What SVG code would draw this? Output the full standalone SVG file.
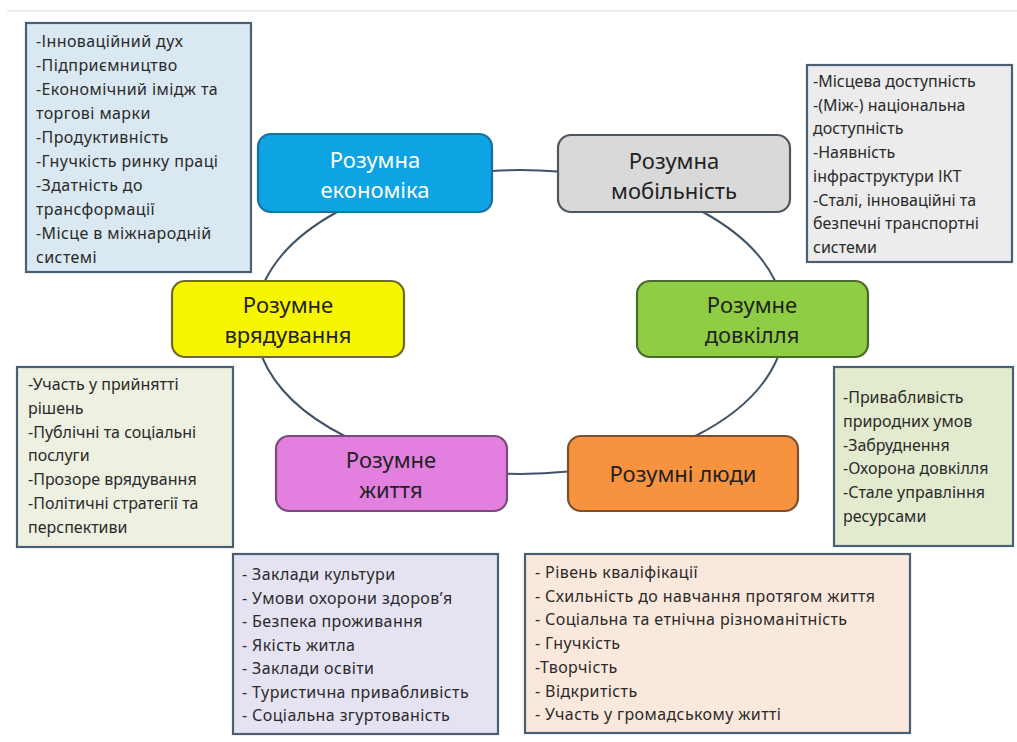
<svg xmlns="http://www.w3.org/2000/svg" width="1017" height="742" viewBox="0 0 1017 742">
<style>
.bg{fill:#ffffff}
.box{stroke:#4b5f72;stroke-width:2.2}
.node{stroke-width:2.2}
.lst{font-family:"Noto Sans","DejaVu Sans",sans-serif;font-size:16px;letter-spacing:0.4px;fill:#2a2a2a}
.ttl{font-family:"Noto Sans","DejaVu Sans",sans-serif;font-size:22px;fill:#222;text-anchor:middle}
.conn{fill:none;stroke:#3f5468;stroke-width:2}
</style>
<rect class="bg" x="0" y="0" width="1017" height="742"/>
<line x1="7" y1="11" x2="1017" y2="11" stroke="#e6e6e6" stroke-width="1.5"/>

<g id="connectors">
<path class="conn" d="M492,170.9 A265,152 0 0 1 558,171.6"/>
<path class="conn" d="M702.9,212 A265,152 0 0 1 775.2,281"/>
<path class="conn" d="M777.9,357 A265,152 0 0 1 695.3,436"/>
<path class="conn" d="M568,471.5 A265,152 0 0 1 507,473.8"/>
<path class="conn" d="M344.7,436 A265,152 0 0 1 262.1,357"/>
<path class="conn" d="M264.8,281 A265,152 0 0 1 337.1,212"/>
</g>

<g id="economy-list">
<rect class="box" x="26" y="23" width="225" height="249" fill="#dae8f2"/>
<text class="lst" x="36"><tspan x="36" y="47">-Інноваційний дух</tspan><tspan x="36" y="71">-Підприємництво</tspan><tspan x="36" y="95">-Економічний імідж та</tspan><tspan x="36" y="119">торгові марки</tspan><tspan x="36" y="143">-Продуктивність</tspan><tspan x="36" y="167">-Гнучкість ринку праці</tspan><tspan x="36" y="191">-Здатність до</tspan><tspan x="36" y="215">трансформації</tspan><tspan x="36" y="239">-Місце в міжнародній</tspan><tspan x="36" y="263">системі</tspan></text>
</g>

<g id="mobility-list">
<rect class="box" x="807" y="65" width="205" height="197" fill="#ececec"/>
<text class="lst" x="813" style="letter-spacing:0px"><tspan x="813" y="87">-Місцева доступність</tspan><tspan x="813" y="110.7">-(Між-) національна</tspan><tspan x="813" y="134.4">доступність</tspan><tspan x="813" y="158.1">-Наявність</tspan><tspan x="813" y="181.8">інфраструктури ІКТ</tspan><tspan x="813" y="205.5">-Сталі, інноваційні та</tspan><tspan x="813" y="229.2">безпечні транспортні</tspan><tspan x="813" y="252.9">системи</tspan></text>
</g>

<g id="governance-list">
<rect class="box" x="17" y="367" width="216" height="180" fill="#eef0e2"/>
<text class="lst" x="28" style="letter-spacing:0px"><tspan x="28" y="390">-Участь у прийнятті</tspan><tspan x="28" y="413.8">рішень</tspan><tspan x="28" y="437.6">-Публічні та соціальні</tspan><tspan x="28" y="461.4">послуги</tspan><tspan x="28" y="485.2">-Прозоре врядування</tspan><tspan x="28" y="509">-Політичні стратегії та</tspan><tspan x="28" y="532.8">перспективи</tspan></text>
</g>

<g id="environment-list">
<rect class="box" x="834" y="367" width="179" height="179" fill="#e3ebcf"/>
<text class="lst" x="843" style="letter-spacing:0px"><tspan x="843" y="403">-Привабливість</tspan><tspan x="843" y="426.8">природних умов</tspan><tspan x="843" y="450.6">-Забруднення</tspan><tspan x="843" y="474.4">-Охорона довкілля</tspan><tspan x="843" y="498.2">-Стале управління</tspan><tspan x="843" y="522">ресурсами</tspan></text>
</g>

<g id="life-list">
<rect class="box" x="233" y="554" width="265" height="180" fill="#e5e2f2"/>
<text class="lst" x="242"><tspan x="242" y="580">- Заклади культури</tspan><tspan x="242" y="603.5">- Умови охорони здоров’я</tspan><tspan x="242" y="627">- Безпека проживання</tspan><tspan x="242" y="650.5">- Якість житла</tspan><tspan x="242" y="674">- Заклади освіти</tspan><tspan x="242" y="697.5">- Туристична привабливість</tspan><tspan x="242" y="721">- Соціальна згуртованість</tspan></text>
</g>

<g id="people-list">
<rect class="box" x="525" y="554" width="385" height="179" fill="#fbe8dc"/>
<text class="lst" x="535"><tspan x="535" y="578">- Рівень кваліфікації</tspan><tspan x="535" y="601.7">- Схильність до навчання протягом життя</tspan><tspan x="535" y="625.4">- Соціальна та етнічна різноманітність</tspan><tspan x="535" y="649.1">- Гнучкість</tspan><tspan x="535" y="672.8">-Творчість</tspan><tspan x="535" y="696.5">- Відкритість</tspan><tspan x="535" y="720.2">- Участь у громадському житті</tspan></text>
</g>

<g id="economy">
<rect class="node" x="258" y="134" width="234" height="78" rx="13" fill="#0ea3e2" stroke="#1b6f9e"/>
<text class="ttl" x="375" y="168" style="fill:#ffffff">Розумна</text>
<text class="ttl" x="375" y="198" style="fill:#ffffff">економіка</text>
</g>

<g id="mobility">
<rect class="node" x="558" y="135" width="232" height="77" rx="13" fill="#d9d9d9" stroke="#4e5660"/>
<text class="ttl" x="674" y="169">Розумна</text>
<text class="ttl" x="674" y="199">мобільність</text>
</g>

<g id="governance">
<rect class="node" x="172" y="281" width="232" height="76" rx="13" fill="#f7f500" stroke="#6d6b2c"/>
<text class="ttl" x="288" y="313">Розумне</text>
<text class="ttl" x="288" y="343">врядування</text>
</g>

<g id="environment">
<rect class="node" x="637" y="281" width="231" height="76" rx="13" fill="#8fcd45" stroke="#4a6a2c"/>
<text class="ttl" x="752" y="313">Розумне</text>
<text class="ttl" x="752" y="343">довкілля</text>
</g>

<g id="life">
<rect class="node" x="276" y="436" width="231" height="75" rx="13" fill="#e37fde" stroke="#7b4a7d"/>
<text class="ttl" x="391" y="468">Розумне</text>
<text class="ttl" x="391" y="498">життя</text>
</g>

<g id="people">
<rect class="node" x="568" y="436" width="230" height="75" rx="13" fill="#f7923f" stroke="#7a5033"/>
<text class="ttl" x="683" y="482">Розумні люди</text>
</g>
</svg>
